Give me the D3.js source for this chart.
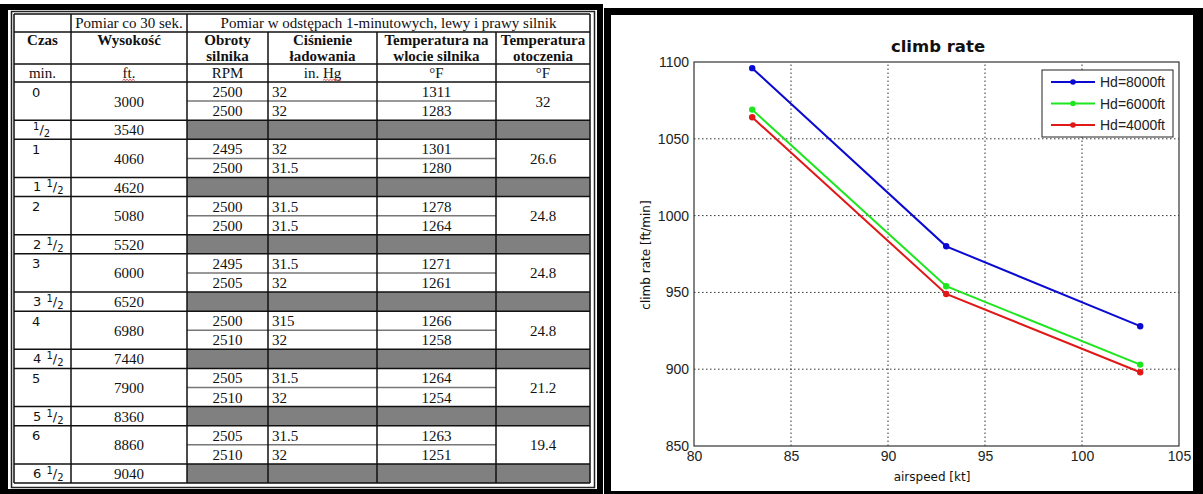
<!DOCTYPE html>
<html>
<head>
<meta charset="utf-8">
<script src="https://cdn.jsdelivr.net/npm/d3@7"></script>
<style>
  body { margin: 0; background: #fff; }
  svg { display: block; }
  .cell { font-family: "Liberation Serif", "Times New Roman", serif; font-size: 15px; fill: #111; }
  .bold { font-weight: bold; }
  .czas { font-family: "DejaVu Sans", sans-serif; font-size: 13px; fill: #111; }
  .tick text { font-family: "Liberation Sans", Arial, sans-serif; font-size: 14px; fill: #222; }
  .label { font-family: "DejaVu Sans", sans-serif; fill: #111; }
</style>
</head>
<body>
<div id="chart"></div>
<script>
(function () {

  // table: pomiar co 30 sek.
  const minutes = ['0', '1', '2', '3', '4', '5', '6']
  const altitude = [3000, 3540, 4060, 4620, 5080, 5520, 6000, 6520, 6980, 7440, 7900, 8360, 8860, 9040]
  // pomiar co minute, lewy i prawy silnik
  const rpm = [[2500, 2500], [2495, 2500], [2500, 2500], [2495, 2505], [2500, 2510], [2505, 2510], [2505, 2510]]
  const boost = [['32', '32'], ['32', '31.5'], ['31.5', '31.5'], ['31.5', '32'], ['315', '32'], ['31.5', '32'], ['31.5', '32']]
  const inletTemp = [[1311, 1283], [1301, 1280], [1278, 1264], [1271, 1261], [1266, 1258], [1264, 1254], [1263, 1251]]
  const ambientTemp = ['32', '26.6', '24.8', '24.8', '24.8', '21.2', '19.4']

  const headTop = ['Pomiar co 30 sek.', 'Pomiar w odstępach 1-minutowych, lewy i prawy silnik']
  const headers = [['Czas'], ['Wysokość'], ['Obroty', 'silnika'], ['Ciśnienie', 'ładowania'], ['Temperatura na', 'wlocie silnika'], ['Temperatura', 'otoczenia']]
  const units = ['min.', 'ft.', 'RPM', 'in. Hg', '°F', '°F']

  // chart: climb rate vs airspeed
  const airspeed = [83, 93, 103]
  const climb8000 = [1096, 980, 928]
  const climb6000 = [1069, 954, 903]
  const climb4000 = [1064, 949, 898]
  const seriesNames = ['Hd=8000ft', 'Hd=6000ft', 'Hd=4000ft']
  const xTicks = [80, 85, 90, 95, 100, 105]
  const yTicks = [850, 900, 950, 1000, 1050, 1100]

  const svg = d3.select("#chart").append("svg")
      .attr("width", 1203)
      .attr("height", 494)

  // ---------- left panel (table) ----------
  const left = svg.append("g")

  left.append("rect").attr("x", 0).attr("y", 4).attr("width", 603).attr("height", 490).attr("fill", "#000")
  left.append("rect").attr("x", 8).attr("y", 10).attr("width", 589).attr("height", 479).attr("fill", "#fff")
  left.append("rect").attr("x", 11.5).attr("y", 11.5).attr("width", 583).attr("height", 476)
    .attr("fill", "none").attr("stroke", "#222").attr("stroke-width", 1.5)

  const colX = [14, 71, 187, 268, 377, 496, 590]
  const colMid = i => (colX[i] + colX[i + 1]) / 2

  // 21 half-height rows: 7 x (two sub-rows + one half-minute row)
  const rowY = d3.scaleLinear().domain([0, 21]).range([82, 483])

  // grey half-minute rows
  left.selectAll(".grey")
    .data(minutes)
    .join("rect")
    .attr("class", "grey")
    .attr("x", colX[2])
    .attr("y", (d, i) => rowY(3 * i + 2))
    .attr("width", colX[6] - colX[2])
    .attr("height", rowY(1) - rowY(0))
    .attr("fill", "#808080")

  // row borders
  const hLines = [
    { y: 14, x1: colX[0], x2: colX[6] },
    { y: 32, x1: colX[0], x2: colX[6] },
    { y: 64, x1: colX[0], x2: colX[6] },
    { y: 82, x1: colX[0], x2: colX[6] }
  ]
  minutes.forEach((m, i) => {
    hLines.push({ y: rowY(3 * i + 1), x1: colX[2], x2: colX[5], sub: true })
    hLines.push({ y: rowY(3 * i + 2), x1: colX[0], x2: colX[6] })
    hLines.push({ y: rowY(3 * i + 3), x1: colX[0], x2: colX[6] })
  })
  left.selectAll(".hline")
    .data(hLines)
    .join("line")
    .attr("class", "hline")
    .attr("x1", d => d.x1).attr("x2", d => d.x2)
    .attr("y1", d => d.y).attr("y2", d => d.y)
    .attr("stroke", d => d.sub ? "#777" : "#111")
    .attr("stroke-width", 1.5)

  // column borders (cols 3-6 merged in the top row)
  left.selectAll(".vline")
    .data(colX)
    .join("line")
    .attr("class", "vline")
    .attr("x1", d => d).attr("x2", d => d)
    .attr("y1", (d, i) => (i >= 3 && i <= 5) ? 32 : 14)
    .attr("y2", 483)
    .attr("stroke", "#111")
    .attr("stroke-width", 1.5)

  // text cells
  const cells = []
  cells.push({ x: colMid(1), y: 28, t: headTop[0] })
  cells.push({ x: (colX[2] + colX[6]) / 2, y: 28, t: headTop[1] })
  headers.forEach((h, i) => {
    h.forEach((line, j) => cells.push({ x: colMid(i), y: 45 + j * 16, t: line, bold: true }))
  })
  units.forEach((u, i) => cells.push({ x: colMid(i), y: 77.5, t: u, unit: true }))

  const half = rowY(1) - rowY(0)
  minutes.forEach((m, i) => {
    const top = rowY(3 * i)
    cells.push({ x: colMid(1), y: top + half + 5.5, t: altitude[2 * i] })
    cells.push({ x: colMid(1), y: rowY(3 * i + 2) + half / 2 + 5.5, t: altitude[2 * i + 1] })
    for (let k = 0; k < 2; k++) {
      const yy = top + half * k + half / 2 + 5.5
      cells.push({ x: colMid(2), y: yy, t: rpm[i][k] })
      cells.push({ x: colX[3] + 4, y: yy, t: boost[i][k], anchor: "start" })
      cells.push({ x: colMid(4), y: yy, t: inletTemp[i][k] })
    }
    cells.push({ x: colMid(5), y: top + half + 5.5, t: ambientTemp[i] })
  })

  left.selectAll(".cell")
    .data(cells)
    .join("text")
    .attr("class", d => d.bold ? "cell bold" : "cell")
    .attr("x", d => d.x)
    .attr("y", d => d.y)
    .attr("text-anchor", d => d.anchor || "middle")
    .text(d => d.t)

  // spell-check squiggles under "ft." and "Hg" (measured from the text)
  const squiggle = (x1, x2, y) => {
    let p = "M" + x1 + "," + y
    for (let x = x1 + 1.5, up = true; x <= x2; x += 1.5, up = !up) p += "L" + x + "," + (y + (up ? -1.2 : 0))
    return p
  }
  left.selectAll(".cell")
    .filter(d => d.unit && (d.t === "ft." || d.t === "in. Hg"))
    .each(function (d) {
      const w = this.getComputedTextLength()
      const x2 = d.x + w / 2
      const x1 = d.t === "ft." ? d.x - w / 2 : x2 - this.getSubStringLength(4, 2)
      left.append("path").attr("d", squiggle(x1, x2, d.y + 3))
        .attr("fill", "none").attr("stroke", "#d33").attr("stroke-width", 0.9)
    })

  // Czas column
  left.selectAll(".czasFull")
    .data(minutes)
    .join("text")
    .attr("class", "czas czasFull")
    .attr("x", 32)
    .attr("y", (d, i) => rowY(3 * i) + 14.5)
    .text(d => d)

  const halves = left.selectAll(".czasHalf")
    .data(minutes)
    .join("text")
    .attr("class", "czas czasHalf")
    .attr("x", 33)
    .attr("y", (d, i) => rowY(3 * i + 2) + 14)
  halves.append("tspan").text((d, i) => i === 0 ? "" : d + "\u2009\u2009")
  halves.append("tspan").attr("font-size", 10).attr("dy", -4).text("1")
  halves.append("tspan").attr("dy", 4).text("/")
  halves.append("tspan").attr("font-size", 10).attr("dy", 3).text("2")

  // ---------- right panel (chart) ----------
  const right = svg.append("g")
  right.append("rect").attr("x", 604).attr("y", 8).attr("width", 599).attr("height", 486).attr("fill", "#000")
  right.append("rect").attr("x", 611).attr("y", 15).attr("width", 582).attr("height", 476).attr("fill", "#fff")

  const xPositionScale = d3.scaleLinear()
    .domain([80, 105])
    .range([694, 1179])

  const yPositionScale = d3.scaleLinear()
    .domain([850, 1100])
    .range([446, 62])

  // dotted grid
  right.selectAll(".gx")
    .data(xTicks.slice(1, -1))
    .join("line")
    .attr("class", "gx")
    .attr("x1", d => xPositionScale(d)).attr("x2", d => xPositionScale(d))
    .attr("y1", yPositionScale(850)).attr("y2", yPositionScale(1100))
    .attr("stroke", "#333").attr("stroke-dasharray", "1.5,2.5")

  right.selectAll(".gy")
    .data(yTicks.slice(1, -1))
    .join("line")
    .attr("class", "gy")
    .attr("y1", d => yPositionScale(d)).attr("y2", d => yPositionScale(d))
    .attr("x1", xPositionScale(80)).attr("x2", xPositionScale(105))
    .attr("stroke", "#333").attr("stroke-dasharray", "1.5,2.5")

  right.append("rect")
    .attr("x", xPositionScale(80)).attr("y", yPositionScale(1100))
    .attr("width", xPositionScale(105) - xPositionScale(80))
    .attr("height", yPositionScale(850) - yPositionScale(1100))
    .attr("fill", "none").attr("stroke", "#333").attr("stroke-width", 1.2)

  const xAxis = d3.axisBottom(xPositionScale).tickValues(xTicks).tickFormat(d3.format("d")).tickSize(0).tickPadding(5)
  right.append("g")
    .attr("class", "axis x-axis")
    .attr("transform", "translate(0," + yPositionScale(850) + ")")
    .call(xAxis)
    .call(g => g.select(".domain").remove())

  const yAxis = d3.axisLeft(yPositionScale).tickValues(yTicks).tickFormat(d3.format("d")).tickSize(0).tickPadding(5)
  right.append("g")
    .attr("class", "axis y-axis")
    .attr("transform", "translate(" + xPositionScale(80) + ",0)")
    .call(yAxis)
    .call(g => g.select(".domain").remove())

  const series = [
    { name: seriesNames[0], values: climb8000, color: "#0a0ad2" },
    { name: seriesNames[1], values: climb6000, color: "#1ee61e" },
    { name: seriesNames[2], values: climb4000, color: "#e01818" }
  ]

  const line = d3.line()
    .x((d, i) => xPositionScale(airspeed[i]))
    .y(d => yPositionScale(d))

  right.selectAll(".series")
    .data(series)
    .join("path")
    .attr("class", "series")
    .attr("d", d => line(d.values))
    .attr("fill", "none")
    .attr("stroke", d => d.color)
    .attr("stroke-width", 2)

  series.forEach(s => {
    right.selectAll(null)
      .data(s.values)
      .join("circle")
      .attr("cx", (d, i) => xPositionScale(airspeed[i]))
      .attr("cy", d => yPositionScale(d))
      .attr("r", 3.2)
      .attr("fill", s.color)
  })

  // legend
  const legend = right.append("g").attr("transform", "translate(1042,70)")
  legend.append("rect").attr("width", 131).attr("height", 67)
    .attr("fill", "#fff").attr("stroke", "#222").attr("stroke-width", 1)
  const entry = legend.selectAll(".entry")
    .data(series)
    .join("g")
    .attr("class", "entry")
    .attr("transform", (d, i) => "translate(0," + (12 + i * 21.5) + ")")
  entry.append("line").attr("x1", 9).attr("x2", 53)
    .attr("stroke", d => d.color).attr("stroke-width", 2)
  entry.append("circle").attr("cx", 31).attr("r", 2.8).attr("fill", d => d.color)
  entry.append("text").attr("x", 58).attr("y", 5)
    .attr("font-family", "Liberation Sans, Arial, sans-serif").attr("font-size", 14).attr("fill", "#222")
    .text(d => d.name)

  // titles
  right.append("text").attr("class", "label")
    .attr("x", 938).attr("y", 52).attr("text-anchor", "middle")
    .attr("font-size", 16.5).attr("font-weight", "bold")
    .text("climb rate")

  right.append("text").attr("class", "label")
    .attr("x", 932).attr("y", 481).attr("text-anchor", "middle")
    .attr("font-size", 12)
    .text("airspeed [kt]")

  right.append("text").attr("class", "label")
    .attr("transform", "translate(650,255) rotate(-90)")
    .attr("text-anchor", "middle")
    .attr("font-size", 12)
    .text("climb rate [ft/min]")

})();
</script>
</body>
</html>
